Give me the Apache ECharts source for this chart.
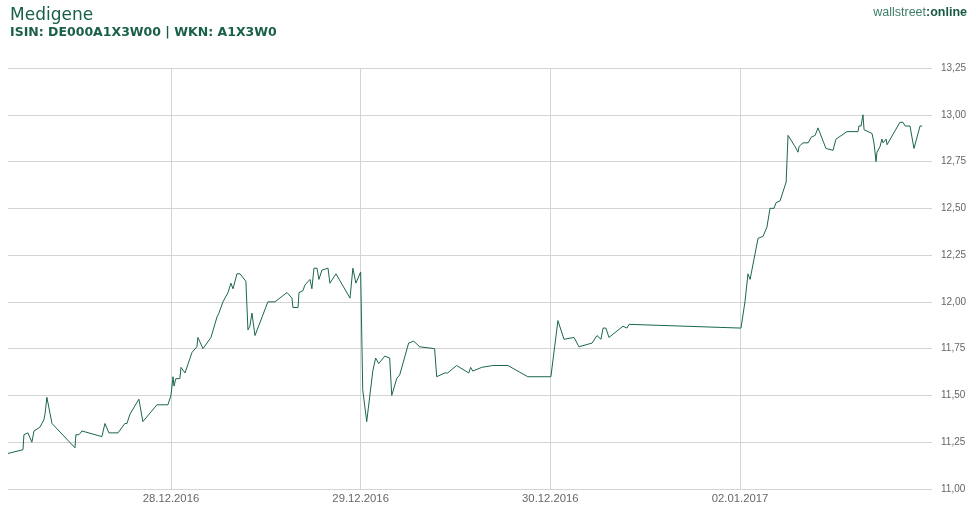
<!DOCTYPE html>
<html><head><meta charset="utf-8">
<script src="https://cdn.jsdelivr.net/npm/echarts@6/dist/echarts.min.js"></script>
<style>html,body{margin:0;padding:0;background:#fff}#c{width:976px;height:510px}</style>
</head><body><div id="c"></div>
<script>
// x: trading-day position (28.12=1, 29.12=2, 30.12=3, 02.01=4)
const times = [0.141,0.220,0.225,0.246,0.267,0.278,0.309,0.330,0.336,0.346,0.373,0.494,0.499,0.515,0.531,0.636,0.652,0.673,0.721,0.757,0.768,0.784,0.831,0.852,0.926,0.984,
1.000,1.011,1.016,1.026,1.047,1.053,1.074,1.111,1.137,1.142,1.169,1.211,1.243,1.253,1.274,1.301,1.316,1.327,1.348,1.364,1.395,1.406,1.416,1.427,1.443,1.511,1.548,1.612,1.638,1.643,1.670,1.675,1.696,1.706,1.733,1.743,1.754,1.770,1.780,1.796,1.828,1.838,1.870,1.944,1.959,1.975,2.000,
2.011,2.032,2.064,2.079,2.095,2.127,2.153,2.164,2.190,2.206,2.253,2.280,2.311,2.390,2.401,2.443,2.459,2.506,2.570,2.580,2.591,2.638,2.696,2.776,2.881,3.003,
3.040,3.072,3.125,3.151,3.220,3.246,3.267,3.278,3.293,3.309,3.383,3.404,3.415,4.005,
4.026,4.042,4.053,4.095,4.121,4.142,4.158,4.179,4.190,4.211,4.243,4.253,4.290,4.306,4.311,4.332,4.359,4.375,4.396,4.411,4.453,4.490,4.506,4.564,4.590,4.622,4.627,4.638,4.648,4.654,4.696,4.706,4.717,4.722,4.738,4.748,4.754,4.770,4.775,4.843,4.859,4.870,4.896,4.917,4.949,4.960];
const prices = [11.19,11.21,11.29,11.30,11.25,11.31,11.33,11.37,11.40,11.49,11.35,11.22,11.29,11.29,11.31,11.28,11.35,11.30,11.30,11.35,11.35,11.40,11.48,11.36,11.45,11.45,
11.50,11.60,11.55,11.59,11.59,11.65,11.62,11.73,11.76,11.81,11.75,11.81,11.92,11.94,12.00,12.05,12.10,12.07,12.15,12.15,12.11,11.85,11.87,11.94,11.82,12.00,12.00,12.05,12.02,11.97,11.97,12.05,12.06,12.09,12.12,12.07,12.18,12.18,12.12,12.17,12.18,12.10,12.15,12.02,12.18,12.10,12.16,
11.53,11.36,11.63,11.70,11.67,11.71,11.70,11.50,11.59,11.61,11.78,11.79,11.76,11.75,11.60,11.62,11.62,11.66,11.62,11.65,11.63,11.65,11.66,11.66,11.60,11.60,
11.90,11.80,11.81,11.76,11.78,11.82,11.80,11.86,11.86,11.81,11.87,11.86,11.88,11.86,
12.00,12.15,12.12,12.34,12.35,12.40,12.50,12.50,12.53,12.54,12.64,12.89,12.83,12.80,12.83,12.85,12.85,12.88,12.89,12.93,12.82,12.81,12.87,12.91,12.91,12.91,12.94,12.94,13.00,12.92,12.90,12.85,12.75,12.80,12.83,12.87,12.85,12.87,12.84,12.96,12.96,12.94,12.94,12.82,12.94,12.94];
const dayTicks = [1,2,3,4];
const dayLabels = ['28.12.2016','29.12.2016','30.12.2016','02.01.2017'];
const yMin = 11, yMax = 13.25, yStep = 0.25;
const title = 'Medigene';
const subtitle = 'ISIN: DE000A1X3W00 | WKN: A1X3W0';

const chart = echarts.init(document.getElementById('c'));
chart.setOption({
  animation:false,
  grid:{left:8,right:44,top:68,bottom:21},
  title:[{text:title,left:10,top:7,padding:0,textStyle:{fontFamily:'DejaVu Sans',fontSize:17,fontWeight:'normal',color:'#1a6048'}},
         {text:subtitle,left:10,top:26,padding:0,textStyle:{fontFamily:'DejaVu Sans',fontSize:12.5,fontWeight:'bold',color:'#1a6048'}}],
  graphic:[{type:'text',right:9,top:6,style:{text:'{a|wallstreet}{b|:online}',rich:{a:{fontFamily:'Liberation Sans Narrow, Liberation Sans',fontSize:12.5,fill:'#3d7d66'},b:{fontFamily:'Liberation Sans Narrow, Liberation Sans',fontSize:12.5,fontWeight:'bold',fill:'#175a43'}}}}],
  xAxis:{type:'value',min:times[0],max:5.012,
    axisLine:{show:false},
    axisTick:{show:false,customValues:dayTicks},
    axisLabel:{customValues:dayTicks,formatter:v=>dayLabels[dayTicks.indexOf(Math.round(v))]||'',color:'#666',fontSize:11.3,fontFamily:'Liberation Sans, Arial',margin:4},
    splitLine:{show:true,lineStyle:{color:'#d4d4d4',width:1}}},
  yAxis:{type:'value',position:'right',min:yMin,max:yMax,interval:yStep,
    axisLine:{show:false},axisTick:{show:false},
    axisLabel:{formatter:v=>v.toFixed(2).replace('.',','),color:'#666',fontSize:10,fontFamily:'Liberation Sans, Arial',margin:9},
    splitLine:{lineStyle:{color:'#d4d4d4',width:1}}},
  series:[{type:'line',data:times.map((t,i)=>[t,prices[i]]),showSymbol:false,symbol:'none',
    lineStyle:{color:'#1b6550',width:1},emphasis:{disabled:true}}]
});
</script></body></html>
